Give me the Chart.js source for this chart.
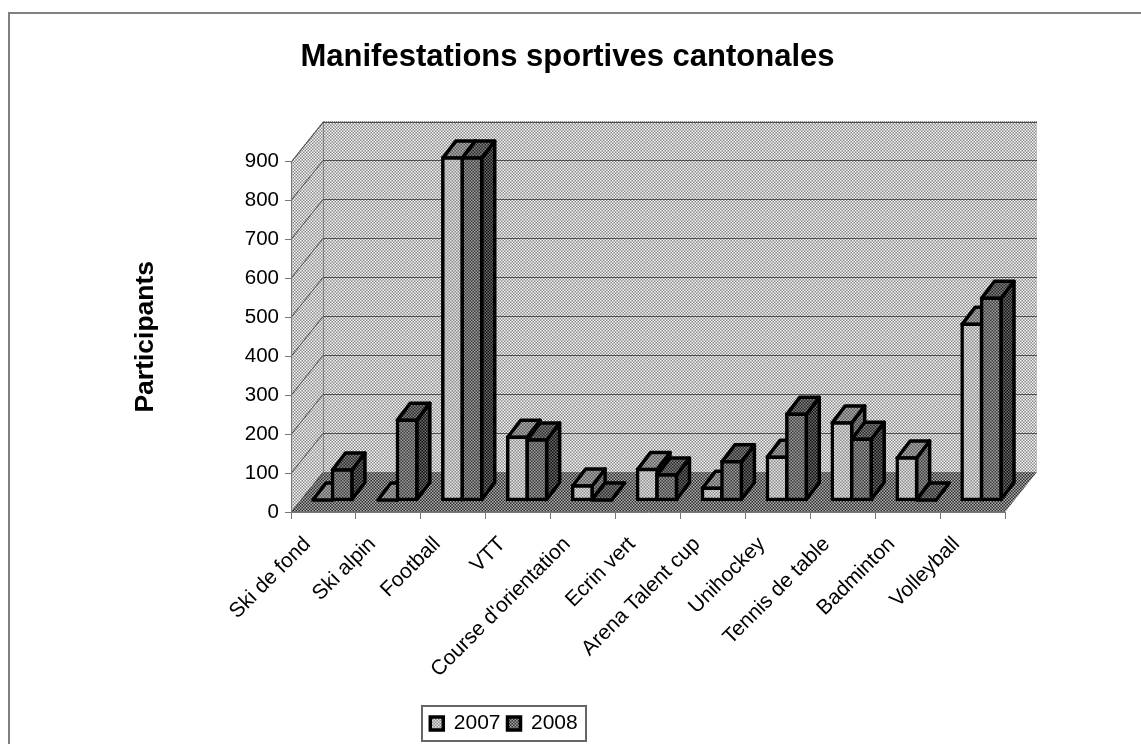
<!DOCTYPE html>
<html>
<head>
<meta charset="utf-8">
<title>Manifestations sportives cantonales</title>
<style>
  html, body { margin: 0; padding: 0; background: #fff; }
  canvas { display: block; }
</style>
<script src="https://cdn.jsdelivr.net/npm/chart.js@4/dist/chart.umd.min.js"></script>
</head>
<body>
<canvas id="chart" width="1141" height="744"></canvas>
<script>
const categories = ['Ski de fond', 'Ski alpin', 'Football', 'VTT', "Course d'orientation", 'Ecrin vert', 'Arena Talent cup', 'Unihockey', 'Tennis de table', 'Badminton', 'Volleyball'];
const values2007 = [0, 0, 878, 161, 36, 78, 30, 110, 198, 108, 451];
const values2008 = [77, 205, 878, 154, 0, 64, 98, 220, 156, 0, 518];
const seriesNames = ['2007', '2008'];
const yTickStep = 100;
const yMax = 900;

// depth of the floor and of the bars, in pixels
const WALL_DX = 32, WALL_DY = -40;
const BAR_SHIFT_X = 9, BAR_SHIFT_Y = -12;
const BAR_DX = 13, BAR_DY = -17;
const OUTLINE = 3.5;

// dither tile: a checker of 1.5px cells, like the scaled-down original
function checker(a, b) {
  const c = document.createElement('canvas');
  c.width = c.height = 3;
  const g = c.getContext('2d');
  const m = Math.round((a + b) / 2);
  const cells = [a, m, b, m, m, m, b, m, a];
  cells.forEach((v, i) => {
    g.fillStyle = `rgb(${v},${v},${v})`;
    g.fillRect(i % 3, Math.floor(i / 3), 1, 1);
  });
  return g.createPattern(c, 'repeat');
}

const ctx0 = document.getElementById('chart').getContext('2d');
const wallFill = checker(248, 136);
const floorFill = checker(176, 44);
const faces = [
  { front: checker(228, 140), top: checker(176, 90), side: checker(150, 60) },
  { front: checker(160, 56), top: checker(130, 40), side: checker(110, 14) }
];

const scenePlugin = {
  id: 'scene',
  afterLayout(chart) {
    // legend box sits left of centre
    const legend = chart.legend;
    legend.left = 422;
    legend.right = 586;
    legend.top = 706;
    legend.bottom = 741;
  },
  beforeDraw(chart) {
    const { ctx, chartArea: a, scales: { y } } = chart;
    const l = a.left, r = a.right, t = a.top, b = a.bottom;
    ctx.save();
    // page frame
    ctx.strokeStyle = '#808080';
    ctx.lineWidth = 2;
    ctx.beginPath();
    ctx.moveTo(9, 744); ctx.lineTo(9, 13); ctx.lineTo(1141, 13);
    ctx.stroke();

    // back wall, side wall, floor
    ctx.fillStyle = wallFill;
    ctx.fillRect(l + WALL_DX, t + WALL_DY, r - l, b - t);
    ctx.beginPath();
    ctx.moveTo(l, b); ctx.lineTo(l + WALL_DX, b + WALL_DY); ctx.lineTo(l + WALL_DX, t + WALL_DY); ctx.lineTo(l, t);
    ctx.closePath();
    ctx.fill();
    ctx.fillStyle = floorFill;
    ctx.beginPath();
    ctx.moveTo(l, b); ctx.lineTo(r, b); ctx.lineTo(r + WALL_DX, b + WALL_DY); ctx.lineTo(l + WALL_DX, b + WALL_DY);
    ctx.closePath();
    ctx.fill();

    // grid lines on the walls
    ctx.lineWidth = 1;
    ctx.strokeStyle = '#505050';
    y.ticks.forEach((tick, i) => {
      const py = Math.round(y.getPixelForTick(i)) + 0.5;
      ctx.beginPath();
      ctx.moveTo(l, py);
      ctx.lineTo(l + WALL_DX, py + WALL_DY);
      if (i > 0) ctx.lineTo(r + WALL_DX, py + WALL_DY);
      ctx.stroke();
    });

    // dotted wall edges
    ctx.strokeStyle = '#404040';
    ctx.setLineDash([1, 1]);
    ctx.beginPath();
    ctx.moveTo(l + 0.5, b); ctx.lineTo(l + 0.5, t);
    ctx.lineTo(l + WALL_DX, t + WALL_DY + 0.5); ctx.lineTo(r + WALL_DX, t + WALL_DY + 0.5);
    ctx.moveTo(l + WALL_DX + 0.5, t + WALL_DY); ctx.lineTo(l + WALL_DX + 0.5, b + WALL_DY);
    ctx.stroke();
    ctx.restore();
  },
  // bars are drawn here so that 2008 always lands on top of 2007
  beforeDatasetsDraw(chart) {
    const { ctx } = chart;
    ctx.save();
    ctx.translate(BAR_SHIFT_X, BAR_SHIFT_Y);
    ctx.strokeStyle = '#000';
    ctx.lineWidth = OUTLINE;
    ctx.lineJoin = 'round';
    categories.forEach((name, c) => {
      seriesNames.forEach((s, d) => {
        const el = chart.getDatasetMeta(d).data[c];
        const face = faces[d];
        const { x, y, width, base } = el.getProps(['x', 'y', 'width', 'base'], true);
        const left = x - width / 2, right = x + width / 2;
        ctx.fillStyle = face.side;
        ctx.beginPath();
        ctx.moveTo(right, y); ctx.lineTo(right + BAR_DX, y + BAR_DY);
        ctx.lineTo(right + BAR_DX, base + BAR_DY); ctx.lineTo(right, base);
        ctx.closePath();
        ctx.fill(); ctx.stroke();
        ctx.fillStyle = face.top;
        ctx.beginPath();
        ctx.moveTo(left, y); ctx.lineTo(left + BAR_DX, y + BAR_DY);
        ctx.lineTo(right + BAR_DX, y + BAR_DY); ctx.lineTo(right, y);
        ctx.closePath();
        ctx.fill(); ctx.stroke();
        ctx.save();
        el.draw(ctx);
        ctx.restore();
      });
    });
    ctx.restore();
  },
  beforeDatasetDraw() {
    return false;
  },
  afterDraw(chart) {
    const { ctx, legend } = chart;
    ctx.save();
    ctx.strokeStyle = '#666';
    ctx.lineWidth = 2;
    ctx.strokeRect(legend.left, legend.top, legend.right - legend.left, legend.bottom - legend.top);
    ctx.restore();
  }
};

const barStyle = {
  borderColor: '#000',
  borderWidth: OUTLINE,
  borderSkipped: false,
  inflateAmount: OUTLINE / 2,
  barPercentage: 1,
  categoryPercentage: 0.6
};

new Chart(ctx0, {
  type: 'bar',
  data: {
    labels: categories,
    datasets: [
      { label: seriesNames[0], data: values2007, backgroundColor: faces[0].front, ...barStyle },
      { label: seriesNames[1], data: values2008, backgroundColor: faces[1].front, ...barStyle }
    ]
  },
  options: {
    responsive: false,
    devicePixelRatio: 1,
    animation: false,
    layout: { padding: { left: 130, right: 136, top: 0, bottom: 3 } },
    plugins: {
      tooltip: { enabled: false },
      title: {
        display: true,
        text: 'Manifestations sportives cantonales',
        color: '#000',
        font: { family: 'Liberation Sans', size: 31, weight: 'bold' },
        padding: { top: 38.4, bottom: 85.9 }
      },
      legend: {
        position: 'bottom',
        labels: {
          color: '#000',
          font: { family: 'Liberation Sans', size: 21 },
          boxWidth: 13,
          boxHeight: 13,
          padding: 7
        }
      }
    },
    scales: {
      x: {
        afterFit: s => { s.height = 191; },
        border: { display: true, color: '#777' },
        grid: { drawOnChartArea: false, drawTicks: true, tickLength: 7, color: '#777' },
        ticks: {
          autoSkip: false,
          minRotation: 45,
          maxRotation: 45,
          color: '#000',
          font: { family: 'Liberation Sans', size: 21 },
          padding: 13,
          labelOffset: -16
        }
      },
      y: {
        min: 0,
        max: yMax,
        afterFit: s => { s.width = 161; },
        border: { display: true, color: '#777' },
        grid: { drawOnChartArea: false, drawTicks: true, tickLength: 6, color: '#777' },
        ticks: {
          stepSize: yTickStep,
          color: '#000',
          font: { family: 'Liberation Sans', size: 20.5 },
          padding: 6
        },
        title: {
          display: true,
          text: 'Participants',
          color: '#000',
          font: { family: 'Liberation Sans', size: 26.5, weight: 'bold' },
          padding: 0
        }
      }
    }
  },
  plugins: [scenePlugin]
});
</script>
</body>
</html>
